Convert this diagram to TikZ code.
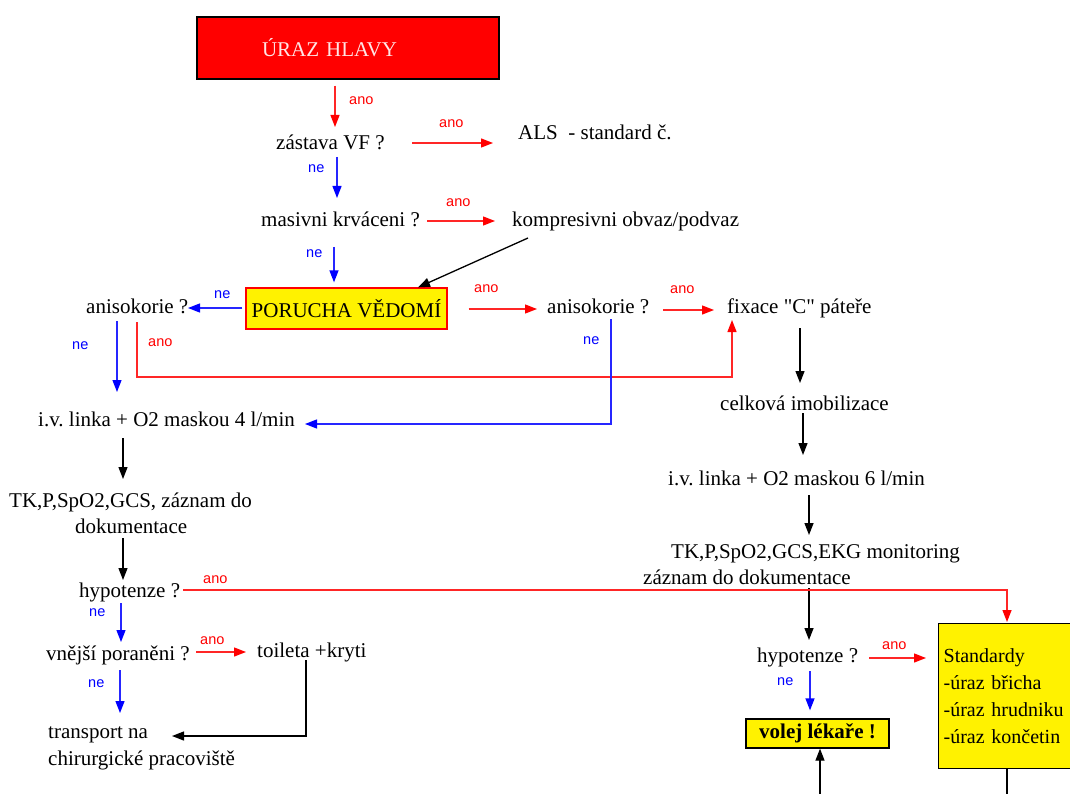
\documentclass[tikz,border=0pt]{standalone}
\usepackage{fontspec}
\setmainfont{Liberation Serif}[Ligatures=TeXOff]
\newfontfamily\labfont{Liberation Sans}
\usetikzlibrary{arrows.meta}
\frenchspacing
\begin{document}
\begin{tikzpicture}[x=1pt,y=-1pt,
  txt/.style={inner sep=0pt, anchor=base west, font=\fontsize{21}{25}\selectfont},
  lab/.style={inner sep=0pt, anchor=base west, font=\labfont\fontsize{14.5}{16}\selectfont},
  rlab/.style={lab, text=red},
  blab/.style={lab, text=blue},
  ln/.style={line width=1.3pt, -{Triangle[length=12pt,width=9pt]}},
  rarr/.style={ln, draw=red!85!white, -{Triangle[length=12pt,width=9pt,fill=red,color=red]}},
  barr/.style={ln, draw=blue!85!white, -{Triangle[length=12pt,width=9pt,fill=blue,color=blue]}},
  karr/.style={ln, draw=black},
  ybox/.style={fill=yellow, line width=1.3pt, inner sep=0pt}
]
\useasboundingbox (0,0) rectangle (1070,794);
\fill[white] (0,0) rectangle (1070,794);

% nodes
\node[draw=black, line width=1.2pt, fill=red, text=white!90!red, inner xsep=65pt, inner ysep=0pt,
      text width=172pt, align=left, minimum height=62pt,
      font=\fontsize{21}{25}\selectfont] (ura) at (348,48) {ÚRAZ HLAVY};
\node[txt] (zas) at (276,150) {zástava VF ?};
\node[txt] (als) at (518,140) {ALS\ \ - standard č.};
\node[txt] (mas) at (261,227) {masivni krváceni ?};
\node[txt] (kom) at (512,227) {kompresivni obvaz/podvaz};
\node[txt] (anl) at (86,313) {anisokorie ?};
\node[ybox, draw=red, minimum width=201pt, minimum height=41pt,
      font=\fontsize{21}{25}\selectfont] (por) at (346.5,308.5) {PORUCHA VĚDOMÍ};
\node[txt] (ivl) at (38,426) {i.v. linka + O2 maskou 4 l/min};
\node[txt] (anr) at (547,313) {anisokorie ?};
\node[txt] (fix) at (727,313) {fixace "C" páteře};
\node[txt] (cel) at (720,410) {celková imobilizace};
\node[txt] (iv6) at (668,485) {i.v. linka + O2 maskou 6 l/min};
\node[txt] (tkr) at (671,558) {TK,P,SpO2,GCS,EKG monitoring};
\node[txt] (zaz) at (643,584) {záznam do dokumentace};
\node[txt] (hyr) at (757,662) {hypotenze ?};
\node[ybox, draw=black, anchor=north west, minimum width=140pt, minimum height=145pt,
      text width=130pt, inner xsep=5pt, align=left,
      font=\fontsize{20}{27}\selectfont] (std) at (938,623)
      {Standardy\\-úraz břicha\\-úraz hrudniku\\-úraz končetin};
\node[ybox, draw=black, minimum width=143pt, minimum height=29pt,
      font=\bfseries\fontsize{21}{25}\selectfont] (vol) at (817.5,733.5) {volej lékaře !};
\node[txt] (tkl) at (9,507) {TK,P,SpO2,GCS, záznam do};
\node[txt] (dok) at (75,533) {dokumentace};
\node[txt] (hyl) at (79,597) {hypotenze ?};
\node[txt] (vne) at (46,660) {vnější poraněni ?};
\node[txt] (toi) at (257,657) {toileta +kryti};
\node[txt] (tra) at (48,738) {transport na};
\node[txt] (chi) at (48,765) {chirurgické pracoviště};

\coordinate (volin) at (820,800);
\coordinate (stdout) at (1007,800);

% labels
\node[rlab] (l1) at (349,105) {ano};
\node[rlab] (l2) at (439,128) {ano};
\node[blab] (l3) at (308,173) {ne};
\node[rlab] (l4) at (446,207) {ano};
\node[blab] (l5) at (306,258) {ne};
\node[blab] (l6) at (214,298) {ne};
\node[blab] (l7) at (72,349) {ne};
\node[rlab] (l8) at (148,346) {ano};
\node[rlab] (l9) at (474,292) {ano};
\node[rlab] (l10) at (670,293) {ano};
\node[blab] (l11) at (583,344) {ne};
\node[rlab] (l12) at (203,583) {ano};
\node[blab] (l13) at (89,616) {ne};
\node[rlab] (l14) at (200,644) {ano};
\node[blab] (l15) at (88,687) {ne};
\node[rlab] (l16) at (882,649) {ano};
\node[blab] (l17) at (777,685) {ne};

% connectors
\draw[rarr] ([shift={(-13,6)}]ura.south) -- ([shift={(59,-23)}]zas.base west);
\draw[barr] ([shift={(61,7)}]zas.base west) -- ([shift={(76,-29)}]mas.base west);
\draw[rarr] ([shift={(136,-7)}]zas.base west) -- ([shift={(-25,3)}]als.base west);
\draw[rarr] ([shift={(166,-6)}]mas.base west) -- ([shift={(-17,-6)}]kom.base west);
\draw[barr] ([shift={(73,20)}]mas.base west) -- ([shift={(-12.5,-5)}]por.north);
\draw[karr] ([shift={(16,11)}]kom.base west) -- ([shift={(71.5,0)}]por.north);
\draw[barr] ([shift={(-3,-0.5)}]por.west) -- ([shift={(102,-5)}]anl.base west);
\draw[barr] ([shift={(31,8)}]anl.base west) -- ([shift={(31,-34)}]anl.base west |- ivl.base west);
\draw[rarr] ([shift={(51,9)}]anl.base west) -- ++(0,55) -| ([shift={(5,7)}]fix.base west);
\draw[barr] ([shift={(64,6)}]anr.base west) |- ([shift={(267,-2)}]ivl.base west);
\draw[rarr] ([shift={(21,0.5)}]por.east) -- ([shift={(-10,-4)}]anr.base west);
\draw[rarr] ([shift={(116,-3)}]anr.base west) -- ([shift={(-13,-3)}]fix.base west);
\draw[karr] ([shift={(73,15)}]fix.base west) -- ([shift={(80,-27)}]cel.base west);
\draw[karr] ([shift={(83,3)}]cel.base west) -- ([shift={(135,-30)}]iv6.base west);
\draw[karr] ([shift={(141,10)}]iv6.base west) -- ([shift={(138,-23)}]tkr.base west);
\draw[karr] ([shift={(166,4)}]zaz.base west) -- ([shift={(52,-22)}]hyr.base west);
\draw[rarr] ([shift={(104,-7)}]hyl.base west) -| ([shift={(69,-1)}]std.north west);
\draw[rarr] ([shift={(112,-4)}]hyr.base west) -- ([shift={(-12,35)}]std.north west);
\draw[barr] ([shift={(53,9)}]hyr.base west) -- ([shift={(-7.5,-8)}]vol.north);
\draw[karr] (volin) -- ([shift={(2.5,0)}]vol.south);
\draw[line width=1.3pt] ([shift={(69,0)}]std.south west) -- (stdout);
\draw[karr] ([shift={(85,12)}]ivl.base west) -- ([shift={(114,-28)}]tkl.base west);
\draw[karr] ([shift={(48,5)}]dok.base west) -- ([shift={(44,-17)}]hyl.base west);
\draw[barr] ([shift={(42,6)}]hyl.base west) -- ([shift={(75,-18)}]vne.base west);
\draw[rarr] ([shift={(150,-8)}]vne.base west) -- ([shift={(-11,-5)}]toi.base west);
\draw[barr] ([shift={(74,10)}]vne.base west) -- ([shift={(72,-25)}]tra.base west);
\draw[karr] ([shift={(49,3)}]toi.base west) |- ([shift={(124,-2)}]tra.base west);
\end{tikzpicture}
\end{document}
